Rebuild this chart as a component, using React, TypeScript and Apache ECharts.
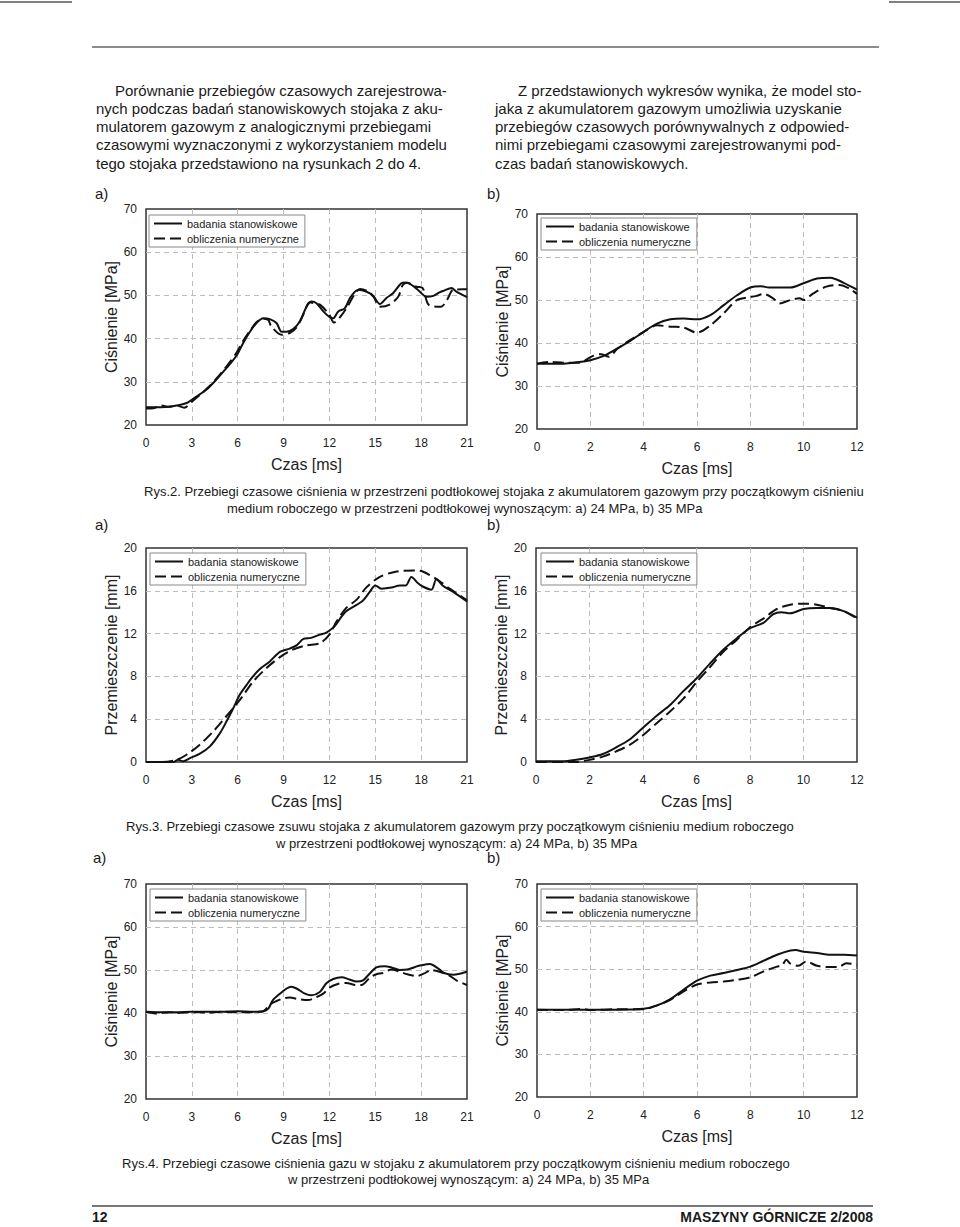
import React, { useEffect, useRef } from "react";
import * as echarts from "echarts";

const BENCH = "badania stanowiskowe";
const NUM = "obliczenia numeryczne";
const TIME_LABEL = "Czas [ms]";
const PRESSURE_LABEL = "Ciśnienie [MPa]";
const DISP_LABEL = "Przemieszczenie [mm]";

// Rys.2 a) 24 MPa — pressure under piston
const bench2a: number[][] = [[0,24.1],[1,24.1],[1.5,24.2],[2,24.5],[2.66,25.1],[3.3,26.6],[3.96,28.2],[4.6,30.5],[5.27,33.2],[5.93,36.1],[6.36,39.0],[6.8,41.6],[7.23,43.6],[7.67,44.7],[8.1,44.5],[8.54,43.6],[8.87,41.6],[9.19,41.6],[9.63,42.2],[10.07,44.0],[10.5,47.4],[10.83,48.6],[11.15,48.2],[11.6,46.3],[12.0,45.0],[12.25,44.7],[12.58,46.3],[13.0,47.0],[13.4,49.7],[13.9,51.3],[14.4,50.9],[14.86,49.9],[15.3,48.0],[15.73,49.4],[16.16,50.5],[16.7,52.8],[17.0,53.0],[17.47,52.2],[17.9,50.9],[18.34,49.7],[18.8,49.9],[19.2,50.7],[19.5,51.1],[19.98,51.7],[20.3,50.9],[21,49.6]];
const num2a: number[][] = [[0,23.8],[0.5,23.9],[1,24.5],[1.5,24.2],[2,24.5],[2.5,24.0],[3,25.4],[3.5,26.9],[4,28.5],[4.6,30.7],[5.27,33.6],[5.93,36.8],[6.36,39.5],[6.8,41.8],[7.23,43.8],[7.67,44.6],[8.0,44.3],[8.2,42.8],[8.87,40.9],[9.4,41.3],[9.85,42.6],[10.3,45.6],[10.7,48.4],[11.0,48.2],[11.4,47.8],[12.0,45.5],[12.3,43.7],[12.7,45.0],[13.2,47.5],[13.6,50.0],[14.0,51.5],[14.5,51.0],[14.9,49.6],[15.3,47.4],[15.9,47.8],[16.5,49.7],[16.8,52.4],[17.1,52.9],[17.7,52.0],[18.1,51.7],[18.5,47.8],[19.3,47.4],[19.7,49.0],[20.1,51.3],[20.7,51.4],[21,51.4]];
// Rys.2 b) 35 MPa
const bench2b: number[][] = [[0,35.2],[1,35.2],[1.5,35.5],[2,36.0],[2.5,37.0],[3,38.7],[3.5,40.5],[4,42.6],[4.5,44.5],[5,45.5],[5.5,45.7],[6,45.5],[6.5,46.5],[7,48.8],[7.5,51.1],[8,52.9],[8.4,53.2],[8.7,52.9],[9.5,52.9],[10,53.9],[10.5,55.0],[11,55.2],[11.5,54.0],[12,52.4]];
const num2b: number[][] = [[0,35.2],[0.5,35.6],[1,35.4],[1.6,35.4],[2.06,36.9],[2.4,37.4],[2.7,36.8],[3,38.6],[3.4,40.3],[4,42.6],[4.5,44.1],[5,43.8],[5.5,43.6],[6,42.4],[6.5,44.1],[7,46.9],[7.5,50.0],[7.9,50.6],[8.2,50.9],[8.5,51.4],[8.85,50.4],[9.1,49.2],[9.5,50.0],[9.85,50.4],[10,50.0],[10.35,51.5],[10.85,53.1],[11.35,53.5],[11.7,52.7],[12,51.4]];
// Rys.3 a) displacement, 24 MPa
const bench3a: number[][] = [[0,0],[1,0],[1.8,0],[2.1,0.2],[2.44,0.06],[2.88,0.37],[3.5,0.75],[4.18,1.46],[4.84,2.7],[5.27,3.8],[5.7,5.0],[6.14,6.3],[6.58,7.2],[7.0,8.0],[7.45,8.7],[8.1,9.4],[8.76,10.3],[9.4,10.6],[9.85,10.9],[10.3,11.5],[10.8,11.6],[11.37,11.9],[11.8,12.1],[12.35,12.7],[12.8,13.6],[13.1,14.1],[13.8,14.7],[14.2,15.1],[14.64,15.9],[15.0,16.5],[15.4,16.2],[16.06,16.3],[16.6,16.5],[17.0,16.5],[17.36,17.3],[17.8,16.7],[18.1,16.4],[18.67,16.1],[19.0,17.1],[19.4,16.5],[20.1,15.9],[21,15.0]];
const num3a: number[][] = [[0,0],[1,0],[2.0,0.2],[2.65,0.68],[3.5,1.6],[4.4,2.86],[5.27,4.3],[6.14,5.8],[7.0,7.5],[7.9,8.8],[8.76,9.8],[9.6,10.5],[10.5,10.9],[11.37,11.1],[12.0,11.9],[12.45,13.1],[13.1,14.4],[13.8,15.2],[14.4,16.3],[15.3,17.3],[16.4,17.8],[17.7,17.9],[18.1,17.8],[19.0,17.1],[19.87,16.2],[21,15.1]];
// Rys.3 b) displacement, 35 MPa
const bench3b: number[][] = [[0,0.06],[1,0.06],[1.5,0.2],[2,0.43],[2.5,0.75],[3,1.37],[3.5,2.1],[4,3.2],[4.5,4.3],[5,5.3],[5.5,6.6],[6,7.8],[6.5,9.2],[7,10.5],[7.5,11.55],[8,12.5],[8.5,13.0],[8.86,13.8],[9.17,14.0],[9.5,13.9],[10,14.3],[10.5,14.4],[11,14.4],[11.5,14.1],[12,13.5]];
const num3b: number[][] = [[0,0],[1.5,0],[2,0.2],[2.5,0.5],[3,1.0],[3.5,1.6],[4,2.5],[4.5,3.6],[5,4.7],[5.5,5.9],[6,7.45],[6.5,8.85],[7,10.3],[7.5,11.4],[8,12.6],[8.5,13.4],[9,14.3],[9.5,14.7],[10,14.8],[10.5,14.7],[11,14.4],[11.5,14.1],[12,13.4]];
// Rys.4 a) gas pressure, 24 MPa
const bench4a: number[][] = [[0,40.3],[1,40.2],[2,40.2],[3,40.3],[4,40.3],[5,40.3],[6,40.4],[7,40.3],[7.67,40.4],[8.0,41.0],[8.3,43.0],[8.76,44.5],[9.2,45.7],[9.5,46.1],[9.85,45.7],[10.4,44.5],[10.8,44.1],[11.37,44.9],[11.8,46.9],[12.25,47.9],[12.8,48.3],[13.3,47.8],[13.77,47.3],[14.2,47.6],[14.64,49.2],[15.07,50.6],[15.6,50.9],[16.06,50.6],[16.6,50.0],[17.1,50.1],[17.6,50.7],[18.0,51.1],[18.56,51.4],[19.1,50.4],[19.5,49.3],[20.1,48.9],[20.6,49.2],[21,49.6]];
const num4a: number[][] = [[0,40.3],[0.7,39.9],[1.5,40.2],[2,40.0],[3,40.2],[4,40.1],[5,40.3],[6,40.2],[7,40.2],[7.67,40.4],[8.1,42.0],[8.54,42.8],[9.0,43.4],[9.4,43.6],[10.0,43.2],[10.6,43.0],[11.15,43.7],[11.6,44.5],[12.0,45.9],[12.6,46.8],[13.1,47.0],[13.77,46.5],[14.1,46.5],[14.64,48.2],[15.07,49.0],[15.5,49.3],[16.06,50.1],[16.6,49.6],[17.1,49.0],[17.7,48.6],[18.2,49.2],[18.67,50.0],[19.2,49.6],[19.8,48.8],[20.3,47.6],[21,46.5]];
// Rys.4 b) gas pressure, 35 MPa
const bench4b: number[][] = [[0,40.5],[1,40.5],[2,40.5],[3,40.5],[4,40.7],[4.5,41.5],[5,43.0],[5.5,45.2],[6,47.3],[6.5,48.5],[7,49.1],[7.5,49.8],[8,50.6],[8.5,52.0],[9,53.4],[9.5,54.4],[9.7,54.5],[10,54.1],[10.5,53.8],[11,53.4],[11.5,53.4],[12,53.2]];
const num4b: number[][] = [[0,40.5],[1,40.4],[1.7,40.7],[2,40.4],[3,40.6],[4,40.6],[4.5,41.5],[5,42.8],[5.5,44.8],[6,46.4],[6.5,46.9],[7,47.1],[7.5,47.5],[8,48.1],[8.5,49.5],[9,50.6],[9.2,51.0],[9.35,52.2],[9.5,51.3],[9.8,50.8],[10.1,51.8],[10.5,50.8],[11,50.5],[11.3,50.5],[11.6,51.4],[12,51.0]];

const leftParagraph = [
  "Porównanie przebiegów czasowych zarejestrowa-",
  "nych podczas badań stanowiskowych stojaka z aku-",
  "mulatorem gazowym z analogicznymi przebiegami",
  "czasowymi wyznaczonymi z wykorzystaniem modelu",
  "tego stojaka przedstawiono na rysunkach 2 do 4.",
];
const rightParagraph = [
  "Z przedstawionych wykresów wynika, że model sto-",
  "jaka z akumulatorem gazowym umożliwia uzyskanie",
  "przebiegów czasowych porównywalnych z odpowied-",
  "nimi przebiegami czasowymi zarejestrowanymi pod-",
  "czas badań stanowiskowych.",
];
const caption2 = [
  "Rys.2. Przebiegi czasowe ciśnienia w przestrzeni podtłokowej stojaka z akumulatorem gazowym przy początkowym ciśnieniu",
  "medium roboczego w przestrzeni podtłokowej wynoszącym: a) 24 MPa, b) 35 MPa",
];
const caption3 = [
  "Rys.3. Przebiegi czasowe zsuwu stojaka z akumulatorem gazowym przy początkowym ciśnieniu medium roboczego",
  "w przestrzeni podtłokowej wynoszącym: a) 24 MPa, b) 35 MPa",
];
const caption4 = [
  "Rys.4. Przebiegi czasowe ciśnienia gazu w stojaku z akumulatorem przy początkowym ciśnieniu medium roboczego",
  "w przestrzeni podtłokowej wynoszącym: a) 24 MPa, b) 35 MPa",
];
const pageNumber = "12";
const journal = "MASZYNY GÓRNICZE 2/2008";

const FONT = "'Liberation Sans', Arial, Helvetica, sans-serif";

type Panel = {
  grid: { left: number; top: number; width: number; height: number };
  legend: { left: number; top: number };
  xMax: number; xInt: number; yMin: number; yMax: number; yInt: number;
  yName: string; bench: number[][]; num: number[][];
};

const panels: Panel[] = [
  { grid: { left: 146, top: 209, width: 321, height: 216 }, legend: { left: 149, top: 215 }, xMax: 21, xInt: 3, yMin: 20, yMax: 70, yInt: 10, yName: PRESSURE_LABEL, bench: bench2a, num: num2a },
  { grid: { left: 537, top: 214, width: 320, height: 215 }, legend: { left: 541, top: 218 }, xMax: 12, xInt: 2, yMin: 20, yMax: 70, yInt: 10, yName: PRESSURE_LABEL, bench: bench2b, num: num2b },
  { grid: { left: 146, top: 548, width: 321, height: 214 }, legend: { left: 150, top: 553 }, xMax: 21, xInt: 3, yMin: 0, yMax: 20, yInt: 4, yName: DISP_LABEL, bench: bench3a, num: num3a },
  { grid: { left: 536, top: 548, width: 321, height: 214 }, legend: { left: 541, top: 553 }, xMax: 12, xInt: 2, yMin: 0, yMax: 20, yInt: 4, yName: DISP_LABEL, bench: bench3b, num: num3b },
  { grid: { left: 146, top: 884, width: 321, height: 215 }, legend: { left: 150, top: 889 }, xMax: 21, xInt: 3, yMin: 20, yMax: 70, yInt: 10, yName: PRESSURE_LABEL, bench: bench4a, num: num4a },
  { grid: { left: 537, top: 884, width: 320, height: 213 }, legend: { left: 541, top: 889 }, xMax: 12, xInt: 2, yMin: 20, yMax: 70, yInt: 10, yName: PRESSURE_LABEL, bench: bench4b, num: num4b },
];

function txt(text: string, x: number, y: number, size: number, opts: any = {}) {
  return {
    type: "text",
    x, y, silent: true,
    style: {
      text, fontSize: size, fontFamily: FONT, fill: "#1a1a1a",
      align: opts.align || "left", verticalAlign: "middle",
      fontWeight: opts.bold ? "bold" : "normal",
    },
  };
}
function hline(x1: number, x2: number, y: number, w: number, c: string) {
  return { type: "line", silent: true, shape: { x1, y1: y, x2, y2: y }, style: { stroke: c, lineWidth: w } };
}

export default function App() {
  const ref = useRef<HTMLDivElement>(null);
  useEffect(() => {
    if (!ref.current) return;
    const chart = echarts.init(ref.current, null, { renderer: "svg" });
    const axisText = { fontSize: 12, color: "#222", fontFamily: FONT };
    const nameText = { fontSize: 16, color: "#222", fontFamily: FONT };
    const split = { show: true, showMinLine: false, showMaxLine: false, lineStyle: { type: [5, 4], color: "#bdbdbd", width: 1 } };

    const grids = panels.map((p) => ({ ...p.grid, show: true, borderColor: "#333", borderWidth: 1.5, containLabel: false }));
    const xAxes = panels.map((p, i) => ({
      gridIndex: i, type: "value", min: 0, max: p.xMax, interval: p.xInt,
      name: TIME_LABEL, nameLocation: "middle", nameGap: 31, nameTextStyle: nameText,
      axisLine: { show: false }, axisTick: { show: false },
      axisLabel: { ...axisText, margin: 12 }, splitLine: split,
    }));
    const yAxes = panels.map((p, i) => ({
      gridIndex: i, type: "value", min: p.yMin, max: p.yMax, interval: p.yInt,
      name: p.yName, nameLocation: "middle", nameGap: 24, nameTextStyle: nameText,
      axisLine: { show: false }, axisTick: { show: false },
      axisLabel: { ...axisText, margin: 9 }, splitLine: split,
    }));
    const series: any[] = [];
    panels.forEach((p, i) => {
      series.push({
        type: "line", name: BENCH, xAxisIndex: i, yAxisIndex: i, data: p.bench,
        symbol: "none", showSymbol: false, smooth: 0.3, z: 3,
        lineStyle: { color: "#111", width: 2, type: "solid" }, itemStyle: { color: "#111" },
      });
      series.push({
        type: "line", name: NUM, xAxisIndex: i, yAxisIndex: i, data: p.num,
        symbol: "none", showSymbol: false, smooth: 0.3, z: 2,
        lineStyle: { color: "#111", width: 2, type: [11, 5] }, itemStyle: { color: "#111" },
      });
    });
    const legends = panels.map((p) => ({
      left: p.legend.left, top: p.legend.top, orient: "vertical",
      data: [BENCH, NUM], itemWidth: 28, itemHeight: 12, itemGap: 4,
      padding: [3, 6, 3, 4], borderColor: "#888", borderWidth: 1, backgroundColor: "#fff",
      textStyle: { fontSize: 11, color: "#222", fontFamily: FONT },
      itemStyle: { opacity: 0 }, selectedMode: false,
    }));

    const lineYs = [90, 108.3, 126.5, 144.8, 163];
    const elements: any[] = [
      hline(0, 72, 2, 1.5, "#555"),
      hline(889, 960, 2, 1.5, "#555"),
      hline(92, 879, 47, 1.5, "#666"),
      hline(92, 873, 1206, 2, "#777"),
    ];
    leftParagraph.forEach((l, i) => elements.push(txt(l, i === 0 ? 115 : 96, lineYs[i], 15)));
    rightParagraph.forEach((l, i) => elements.push(txt(l, i === 0 ? 518 : 495, lineYs[i], 15)));
    elements.push(txt("a)", 95, 193, 15), txt("b)", 487, 193, 15));
    elements.push(txt(caption2[0], 144, 491, 13), txt(caption2[1], 227, 508, 13));
    elements.push(txt("a)", 95, 524, 15), txt("b)", 487, 524, 15));
    elements.push(txt(caption3[0], 126, 826, 13), txt(caption3[1], 276, 843, 13));
    elements.push(txt("a)", 93, 857, 15), txt("b)", 487, 857, 15));
    elements.push(txt(caption4[0], 122, 1163, 13), txt(caption4[1], 288, 1179, 13));
    elements.push(txt(pageNumber, 92, 1217, 14, { bold: true }));
    elements.push(txt(journal, 873, 1217, 14, { bold: true, align: "right" }));

    chart.setOption({
      animation: false,
      backgroundColor: "#fff",
      textStyle: { fontFamily: FONT },
      grid: grids, xAxis: xAxes, yAxis: yAxes, series, legend: legends,
      graphic: { elements },
    });
    return () => chart.dispose();
  }, []);
  return <div ref={ref} style={{ position: "absolute", left: 0, top: 0, width: 960, height: 1227 }} />;
}
